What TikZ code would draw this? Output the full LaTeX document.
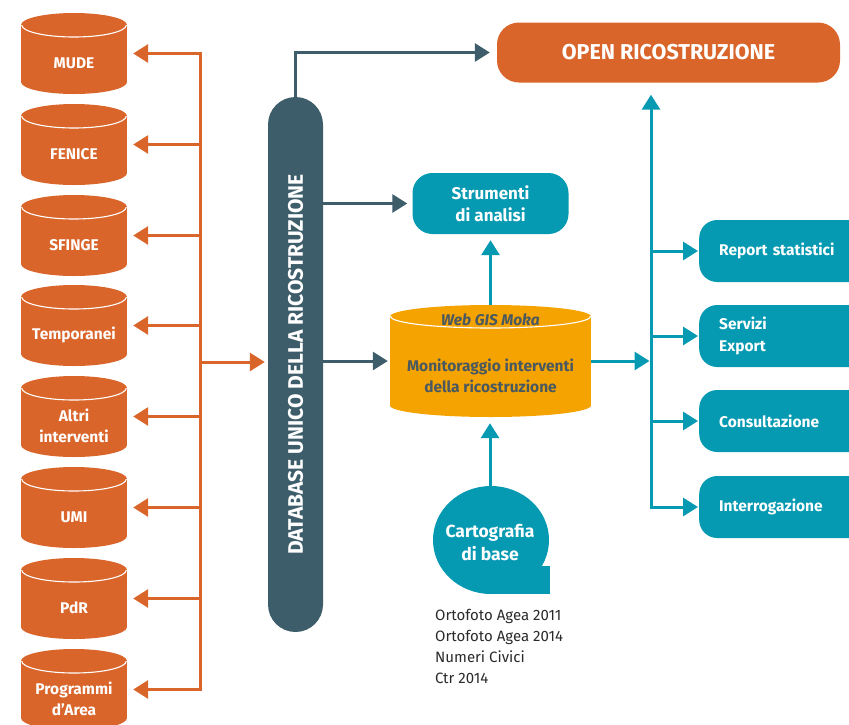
\documentclass[tikz,border=0pt]{standalone}
\usepackage{fontspec}
\setmainfont{Fira Sans}
\usetikzlibrary{arrows.meta}
\definecolor{orng}{HTML}{D9652A}
\definecolor{slatec}{HTML}{3E5D6A}
\definecolor{tealc}{HTML}{0599B2}
\definecolor{mokac}{HTML}{F5A300}
\definecolor{mokatxt}{HTML}{4A5960}
\definecolor{listtxt}{HTML}{2A2A2A}
% cx, top, half width, height, ellipse radius, colour
\newcommand\drawcyl[6]{%
  \fill[#6] (#1-#3,#2+#5) rectangle (#1+#3,#2+#4-#5);
  \fill[#6] (#1,#2+#5) ellipse[x radius=#3pt,y radius=#5pt];
  \fill[#6] (#1,#2+#4-#5) ellipse[x radius=#3pt,y radius=#5pt];
  \begin{scope}
    \clip (#1-#3-3,#2+#5) rectangle (#1+#3+3,#2+2*#5+3);
    \draw[white,line width=1.1pt] (#1,#2+#5) ellipse[x radius=#3pt-0.7pt,y radius=#5pt];
  \end{scope}}
\begin{document}
\begin{tikzpicture}[x=1pt,y=-1pt,
  conn/.style={line width=3pt,-{Triangle[length=15pt,width=18pt]}},
  oarr/.style={conn,draw=orng},
  sarr/.style={conn,draw=slatec},
  tarr/.style={conn,draw=tealc},
  oline/.style={line width=3pt,draw=orng,line cap=rect},
  cylbox/.style={minimum width=106pt,minimum height=81pt,inner sep=0pt},
  cyllab/.style={text=white,font=\bfseries\fontsize{15.5}{21}\selectfont,align=center,yshift=-9.5pt},
  dbbox/.style={fill=slatec,rounded corners=27.5pt,minimum width=535pt,minimum height=55pt,inner sep=0pt,text=white,font=\bfseries\fontsize{21}{25}\selectfont},
  obox/.style={fill=orng,rounded corners=22pt,minimum width=343pt,minimum height=60pt,inner sep=0pt,text=white,font=\bfseries\fontsize{21.5}{25}\selectfont},
  sbox/.style={fill=tealc,rounded corners=20pt,minimum width=156pt,minimum height=61pt,inner sep=0pt,text=white,align=center,font=\bfseries\fontsize{17}{22}\selectfont},
  rbox/.style={fill=tealc,rounded corners=18pt,minimum height=62pt,text width=135pt,inner xsep=20pt,inner ysep=0pt,align=left,text=white,anchor=west,font=\bfseries\fontsize{15.5}{22}\selectfont},
  mokalab/.style={text=mokatxt,align=center,font=\bfseries\fontsize{15.5}{21}\selectfont,inner sep=0pt}
]
\useasboundingbox (0,0) rectangle (849,724);
\clip (0,0) rectangle (849,724);

% left cylinders
\drawcyl{74}{13}{53}{81}{12}{orng}
\drawcyl{74}{104}{53}{81}{12}{orng}
\drawcyl{74}{195}{53}{81}{12}{orng}
\drawcyl{74}{285}{53}{81}{12}{orng}
\drawcyl{74}{376}{53}{81}{12}{orng}
\drawcyl{74}{467}{53}{81}{12}{orng}
\drawcyl{74}{558}{53}{81}{12}{orng}
\drawcyl{74}{649}{53}{81}{12}{orng}
\node[cylbox,label={[cyllab]center:MUDE}] (mude) at (74,53.5) {};
\node[cylbox,label={[cyllab]center:FENICE}] (fenice) at (74,144.5) {};
\node[cylbox,label={[cyllab]center:SFINGE}] (sfinge) at (74,235.5) {};
\node[cylbox,label={[cyllab]center:Temporanei}] (tempo) at (74,325.5) {};
\node[cylbox,label={[cyllab]center:Altri\\interventi}] (altri) at (74,416.5) {};
\node[cylbox,label={[cyllab]center:UMI}] (umi) at (74,507.5) {};
\node[cylbox,label={[cyllab]center:PdR}] (pdr) at (74,598.5) {};
\node[cylbox,label={[cyllab]center:Programmi\\d'Area}] (prog) at (74,689.5) {};

% database bar
\node[dbbox,rotate=90] (db) at (295.5,364.5) {DATABASE UNICO DELLA RICOSTRUZIONE};

% orange hub
\coordinate (hub) at (200,362);
\draw[oline] (mude.east -| hub) -- (prog.east -| hub);
\foreach \n in {mude,fenice,sfinge,tempo,altri,umi,pdr,prog}
  \draw[oarr,shorten >=6pt] (\n.east -| hub) -- (\n.east);
\draw[oarr,shorten >=3pt] (hub) -- (hub -| db.north);

% top box
\node[obox] (open) at (668.5,52.5) {OPEN RICOSTRUZIONE};
\draw[sarr,shorten >=7pt] (db.east) |- (open.west);

% strumenti
\node[sbox] (strum) at (490.5,203.5) {Strumenti\\di analisi};
\draw[sarr,shorten >=5pt] (db.south |- strum.west) -- (strum.west);

% moka cylinder
\drawcyl{490.5}{305}{100.5}{112}{11.5}{mokac}
\node[minimum width=201pt,minimum height=112pt,inner sep=0pt] (moka) at (490.5,361) {};
\node[mokalab,font=\bfseries\itshape\fontsize{15.5}{21}\selectfont] (mokatitle) at (490.5,319.5) {Web GIS Moka};
\node[mokalab] (mokatext) at (490.5,376) {Monitoraggio interventi\\della ricostruzione};
\draw[sarr,shorten >=2pt] (db.south |- moka.west) -- (moka.west);
\draw[tarr,shorten >=6pt] (moka.north) -- (strum.south);

% cartografia
\fill[tealc] (491,540) ellipse[x radius=58pt,y radius=54pt];
\fill[tealc] (495,566) rectangle (550,594);
\node[circle,minimum size=108pt,inner sep=0pt,text=white,align=center,font=\bfseries\fontsize{17.5}{23}\selectfont] (carto) at (490,542) {Cartografia\\di base};
\draw[tarr,shorten >=6pt] (carto.north) -- (carto.north |- moka.south);
\node[anchor=north west,align=left,inner sep=0pt,text=listtxt,font=\fontsize{15}{21}\selectfont] (carlist) at (435,609) {Ortofoto Agea 2011\\Ortofoto Agea 2014\\Numeri Civici\\Ctr 2014};

% right boxes
\node[rbox] (report) at (699,251) {Report statistici};
\node[rbox] (servizi) at (699,336) {Servizi\\Export};
\node[rbox] (consult) at (699,421) {Consultazione};
\node[rbox] (interr) at (699,507) {Interrogazione};
\coordinate (tv) at (651,363);
\draw[tarr,shorten >=12pt] ([yshift=-1.5pt]interr.west -| tv) -- (tv |- open.south);
\foreach \n in {report,servizi,consult,interr}
  \draw[tarr,shorten >=1pt] (\n.west -| tv) -- (\n.west);
\draw[tarr,shorten >=1.5pt] (moka.east) -- (moka.east -| tv);
\end{tikzpicture}
\end{document}
